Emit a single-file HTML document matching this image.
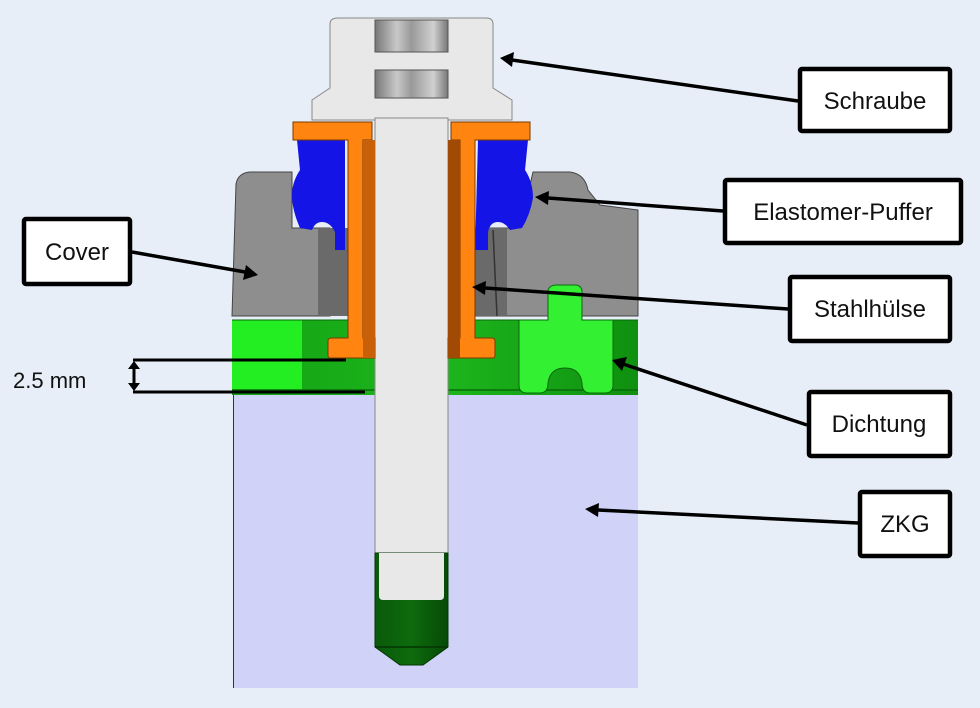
<!DOCTYPE html>
<html><head><meta charset="utf-8"><style>
html,body{margin:0;padding:0;background:#e8eef8;}
svg{display:block;}
text{font-family:"Liberation Sans",Arial,sans-serif;fill:#111;}
</style></head><body>
<svg width="980" height="708" viewBox="0 0 980 708" xmlns="http://www.w3.org/2000/svg">
<defs>
<linearGradient id="dg" x1="0" x2="1" y1="0" y2="0">
<stop offset="0" stop-color="#13a013"/><stop offset="0.5" stop-color="#1db81d"/><stop offset="1" stop-color="#0f900f"/></linearGradient>
<linearGradient id="th" x1="0" x2="1"><stop offset="0" stop-color="#0a5a0a"/><stop offset="0.5" stop-color="#0d6b0d"/><stop offset="1" stop-color="#064a06"/></linearGradient>
<linearGradient id="sock" x1="0" x2="1"><stop offset="0" stop-color="#777"/><stop offset="0.3" stop-color="#c8c8c8"/><stop offset="0.5" stop-color="#999"/><stop offset="0.8" stop-color="#d0d0d0"/><stop offset="1" stop-color="#777"/></linearGradient>
</defs>
<rect width="980" height="708" fill="#e8eef8"/>
<!-- ZKG -->
<rect x="233" y="395" width="405" height="293" fill="#d0d2f8"/>
<line x1="233.5" y1="395" x2="233.5" y2="688" stroke="#333" stroke-width="1"/>
<!-- green layer -->
<rect x="232" y="320" width="406" height="75" fill="url(#dg)"/>
<rect x="232" y="320" width="70" height="70" fill="#22ee22"/>
<line x1="232" y1="390" x2="638" y2="390" stroke="#0a6a0a" stroke-width="1.5"/>
<line x1="232" y1="320" x2="638" y2="320" stroke="#0a6a0a" stroke-width="1"/>
<!-- cover left -->
<path d="M232,316 L236,184 Q238,173 250,172 L292,172 L292,228 L330,228 L330,316 Z" fill="#8e8e8e" stroke="#444" stroke-width="1"/>
<rect x="318" y="228" width="30" height="88" fill="#6a6a6a"/>
<!-- cover right -->
<path d="M475,228 L520,228 L533,172 L570,172 Q585,174 588,190 L600,205 L638,210 L638,316 L475,316 Z" fill="#8e8e8e" stroke="#444" stroke-width="1"/>
<rect x="475" y="228" width="32" height="88" fill="#6a6a6a"/>
<line x1="493" y1="230" x2="497" y2="316" stroke="#333" stroke-width="1.5"/>
<!-- seal -->
<path d="M519,320 L548,320 L548,290 Q550,285 556,285 L576,285 Q582,286 582,292 L582,320 L613,320 L613,385 Q613,393 605,393 L590,393 Q582,393 582,383 Q580,368 565,368 Q550,368 548,383 Q548,393 540,393 L527,393 Q519,393 519,385 Z" fill="#33f033" stroke="#0a6a0a" stroke-width="1"/>
<!-- blue elastomer -->
<path d="M297,140 L345,140 L345,250 L335,250 L335,232 Q330,222 322,222 Q315,222 312,230 L300,228 Q292,210 292,195 Q292,182 300,170 Z" fill="#1414e6"/>
<path d="M478,140 L528,140 L525,170 Q533,182 533,198 Q530,215 522,228 L510,230 Q505,222 498,222 Q490,222 488,232 L488,250 L475,250 Z" fill="#1414e6"/>
<!-- bolt -->
<path d="M330,24 Q330,18 338,18 L486,18 Q493,18 493,24 L493,88 L512,100 L512,120 L312,120 L312,100 L330,88 Z" fill="#e8e8e8" stroke="#888" stroke-width="1"/>
<rect x="375" y="20" width="73" height="32" fill="url(#sock)" stroke="#555" stroke-width="1"/>
<rect x="375" y="70" width="73" height="28" fill="url(#sock)" stroke="#555" stroke-width="1"/>
<rect x="375" y="118" width="73" height="436" fill="#e8e8e8" stroke="#888" stroke-width="1"/>
<path d="M375,553 L448,553 L448,647 L423,665 L400,665 L375,647 Z" fill="url(#th)" stroke="#053505" stroke-width="1"/>
<line x1="375" y1="647" x2="448" y2="647" stroke="#053505" stroke-width="1.5"/>
<path d="M379,553 L444,553 L444,596 Q444,600 440,600 L383,600 Q379,600 379,596 Z" fill="#e8e8e8"/>
<!-- orange sleeve -->
<path d="M293,122 L372,122 L372,140 L363,140 L363,338 L375,338 L375,358 L330,358 Q328,358 328,355 L328,341 Q328,338 332,338 L348,338 L348,140 L293,140 Z" fill="#ff8410" stroke="#7a3a00" stroke-width="1"/>
<rect x="363" y="140" width="12" height="218" fill="#c8600a"/>
<path d="M530,122 L451,122 L451,140 L460,140 L460,338 L448,338 L448,358 L493,358 Q495,358 495,355 L495,341 Q495,338 491,338 L475,338 L475,140 L530,140 Z" fill="#ff8410" stroke="#7a3a00" stroke-width="1"/>
<rect x="448" y="140" width="12" height="218" fill="#a04a06"/>
<!-- dimension -->
<g stroke="#000" stroke-width="3" fill="none">
<line x1="133" y1="360" x2="346" y2="360"/>
<line x1="133" y1="392" x2="365" y2="392"/>
<line x1="134" y1="366" x2="134" y2="386"/>
</g>
<path d="M128,369 L134,361 L140,369 Z M128,383 L134,391 L140,383 Z" fill="#000"/>
<text x="13" y="388" font-size="22">2.5 mm</text>
<!-- arrows -->
<g stroke="#000" stroke-width="3.5">
<line x1="798" y1="101" x2="512" y2="60"/>
<line x1="723" y1="211" x2="548" y2="198"/>
<line x1="788" y1="309" x2="485" y2="288"/>
<line x1="807" y1="425" x2="623" y2="364"/>
<line x1="858" y1="523" x2="598" y2="510"/>
<line x1="132" y1="252" x2="245" y2="272"/>
</g>
<g fill="#000">
<path d="M500,58 L514,52 L512,67 Z"/>
<path d="M535,197 L549,191 L548,205 Z"/>
<path d="M472,287 L486,281 L485,295 Z"/>
<path d="M612,360 L627,357 L622,371 Z"/>
<path d="M585,509 L599,503 L598,517 Z"/>
<path d="M258,275 L243,280 L246,265 Z"/>
</g>
<!-- label boxes -->
<g fill="#fff" stroke="#000" stroke-width="4.5">
<rect x="800" y="69" width="150" height="62" rx="2"/>
<rect x="725" y="180" width="236" height="63" rx="2"/>
<rect x="790" y="277" width="160" height="64" rx="2"/>
<rect x="809" y="392" width="141" height="64" rx="2"/>
<rect x="860" y="492" width="90" height="64" rx="2"/>
<rect x="24" y="219" width="106" height="65" rx="2"/>
</g>
<g font-size="24" text-anchor="middle">
<text x="875" y="109">Schraube</text>
<text x="843" y="220">Elastomer-Puffer</text>
<text x="870" y="317">Stahlhülse</text>
<text x="879" y="432">Dichtung</text>
<text x="905" y="532">ZKG</text>
<text x="77" y="260">Cover</text>
</g>
</svg>
</body></html>
